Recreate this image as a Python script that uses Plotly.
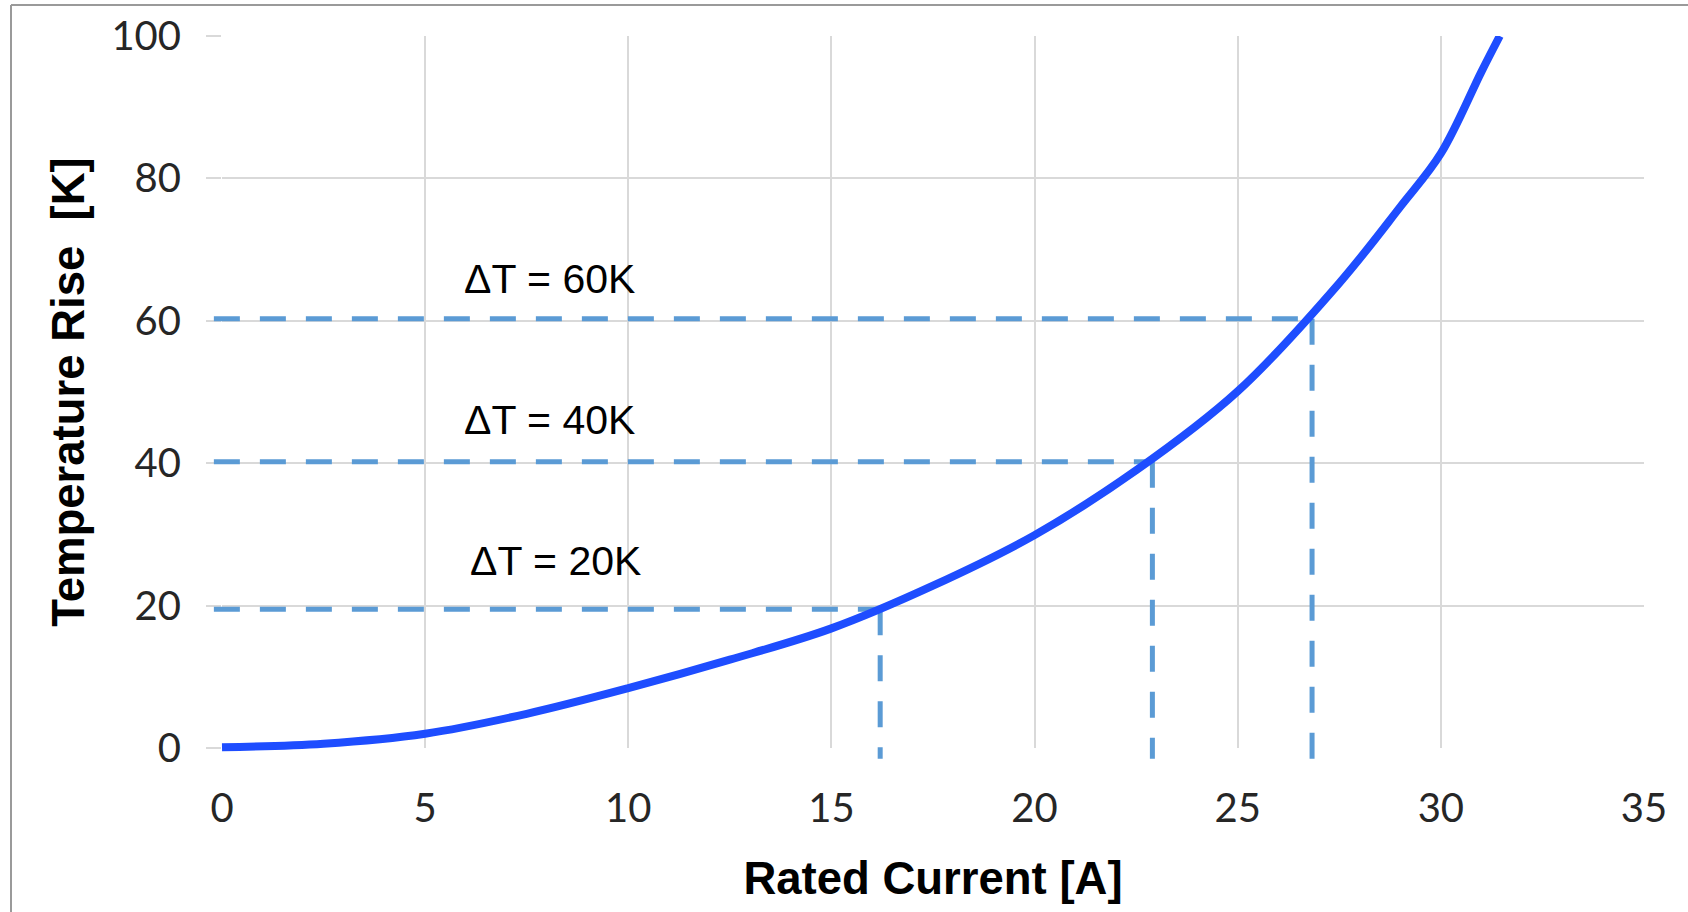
import plotly.graph_objects as go

# ---------------- data ----------------
current_a = [0, 2.5, 5, 7.5, 10, 12.5, 15, 17.5, 20, 22.5, 25, 27.5, 29, 30, 31, 31.45]
temp_rise_k = [0.1, 0.6, 2.0, 4.8, 8.4, 12.4, 16.8, 22.8, 29.9, 39.0, 50.1, 65.3, 76.0, 83.5, 95.0, 100.0]

level_labels = ["ΔT = 20K", "ΔT = 40K", "ΔT = 60K"]
level_y = [19.5, 40.2, 60.3]          # horizontal guide lines
cross_x = [16.2, 22.9, 26.83]         # current where curve meets each level
guide_x_start = -0.2                  # horizontal guides start just left of axis
guide_y_end = -1.5                    # vertical guides run just below the axis
label_x = [8.2, 8.07, 8.07]
label_y = [26.3, 46.1, 65.9]

x_ticks = [0, 5, 10, 15, 20, 25, 30, 35]
y_ticks = [0, 20, 40, 60, 80, 100]
x_range = [0, 35]
y_range = [0, 100]

# ---------------- layout geometry (pixels) ----------------
W, H = 1688, 912
PLOT_L, PLOT_R, PLOT_T, PLOT_B = 222, 1644, 36, 748
EXT = 20  # extra room for guide lines that poke past the axes
ml, mr, mt, mb = PLOT_L - EXT, W - PLOT_R, PLOT_T, H - PLOT_B - EXT
pw, ph = W - ml - mr, H - mt - mb

x_dom0 = EXT / pw
y_dom0 = EXT / ph
# overlay axes share the exact same data scale but cover the extended area
x2_lo = x_range[0] - EXT * (x_range[1] - x_range[0]) / (PLOT_R - PLOT_L)
y2_lo = y_range[0] - EXT * (y_range[1] - y_range[0]) / (PLOT_B - PLOT_T)

GRID = "#D9D9D9"
GUIDE = "#5B9BD5"
CURVE = "#1E4DFF"
TEXT = "#262626"

fig = go.Figure()

# empty trace to anchor the main (gridded) subplot
fig.add_trace(go.Scatter(x=[], y=[], xaxis="x", yaxis="y", showlegend=False, hoverinfo="skip"))

for lx, ly in zip(cross_x, level_y):
    fig.add_trace(go.Scatter(
        x=[guide_x_start, lx], y=[ly, ly], mode="lines",
        line=dict(color=GUIDE, width=5, dash="26px,20px"),
        xaxis="x2", yaxis="y2", showlegend=False, hoverinfo="skip"))
    fig.add_trace(go.Scatter(
        x=[lx, lx], y=[ly, guide_y_end], mode="lines",
        line=dict(color=GUIDE, width=5, dash="26px,20px"),
        xaxis="x2", yaxis="y2", showlegend=False, hoverinfo="skip"))

fig.add_trace(go.Scatter(
    x=current_a, y=temp_rise_k, mode="lines",
    line=dict(color=CURVE, width=8, shape="spline", smoothing=1.0),
    xaxis="x2", yaxis="y2", showlegend=False, name="Temperature Rise"))

annotations = []
for txt, ax_, ay_ in zip(level_labels, label_x, label_y):
    annotations.append(dict(
        x=ax_, y=ay_, xref="x", yref="y", text=txt, showarrow=False,
        font=dict(family="Liberation Sans, Arial", size=41, color="#000000"),
        xanchor="center", yanchor="middle"))

def px_x(p):
    return (p - ml) / pw

def px_y(p):
    return (H - mb - p) / ph

shapes = [
    dict(type="line", xref="paper", yref="paper", x0=px_x(11), x1=px_x(W + 10),
         y0=px_y(5), y1=px_y(5), line=dict(color="#9A9A9A", width=2)),
    dict(type="line", xref="paper", yref="paper", x0=px_x(11), x1=px_x(11),
         y0=px_y(5), y1=px_y(H + 10), line=dict(color="#9A9A9A", width=2)),
]

TITLE_FONT = dict(family="Liberation Sans, Arial", size=45.5, color="#000000", weight="bold")

fig.update_layout(
    width=W, height=H,
    margin=dict(l=ml, r=mr, t=mt, b=mb, pad=0),
    paper_bgcolor="white", plot_bgcolor="rgba(0,0,0,0)",
    showlegend=False,
    xaxis=dict(
        domain=[x_dom0, 1], range=x_range, tickvals=x_ticks, anchor="y",
        showgrid=True, gridcolor=GRID, gridwidth=2, zeroline=False, showline=False,
        ticks="", ticklabelstandoff=33,
        tickfont=dict(family="Lato", size=40, color=TEXT),
        title=dict(text="Rated Current [A]", standoff=32, font=TITLE_FONT),
        fixedrange=True),
    yaxis=dict(
        domain=[y_dom0, 1], range=y_range, tickvals=y_ticks, anchor="x",
        showgrid=True, gridcolor=GRID, gridwidth=2, zeroline=False, showline=False,
        ticks="outside", ticklen=15, tickwidth=2, tickcolor=GRID, ticklabelstandoff=17,
        tickfont=dict(family="Lato", size=40, color=TEXT),
        title=dict(text="Temperature Rise\u00a0 [K]", standoff=12, font=TITLE_FONT),
        fixedrange=True),
    xaxis2=dict(domain=[0, 1], range=[x2_lo, x_range[1]], anchor="y2", visible=False, fixedrange=True),
    yaxis2=dict(domain=[0, 1], range=[y2_lo, y_range[1]], anchor="x2", visible=False, fixedrange=True),
    annotations=annotations,
    shapes=shapes,
)

fig.write_html("out.html", config={"displayModeBar": False},
               post_script="document.body.style.margin='0';")
